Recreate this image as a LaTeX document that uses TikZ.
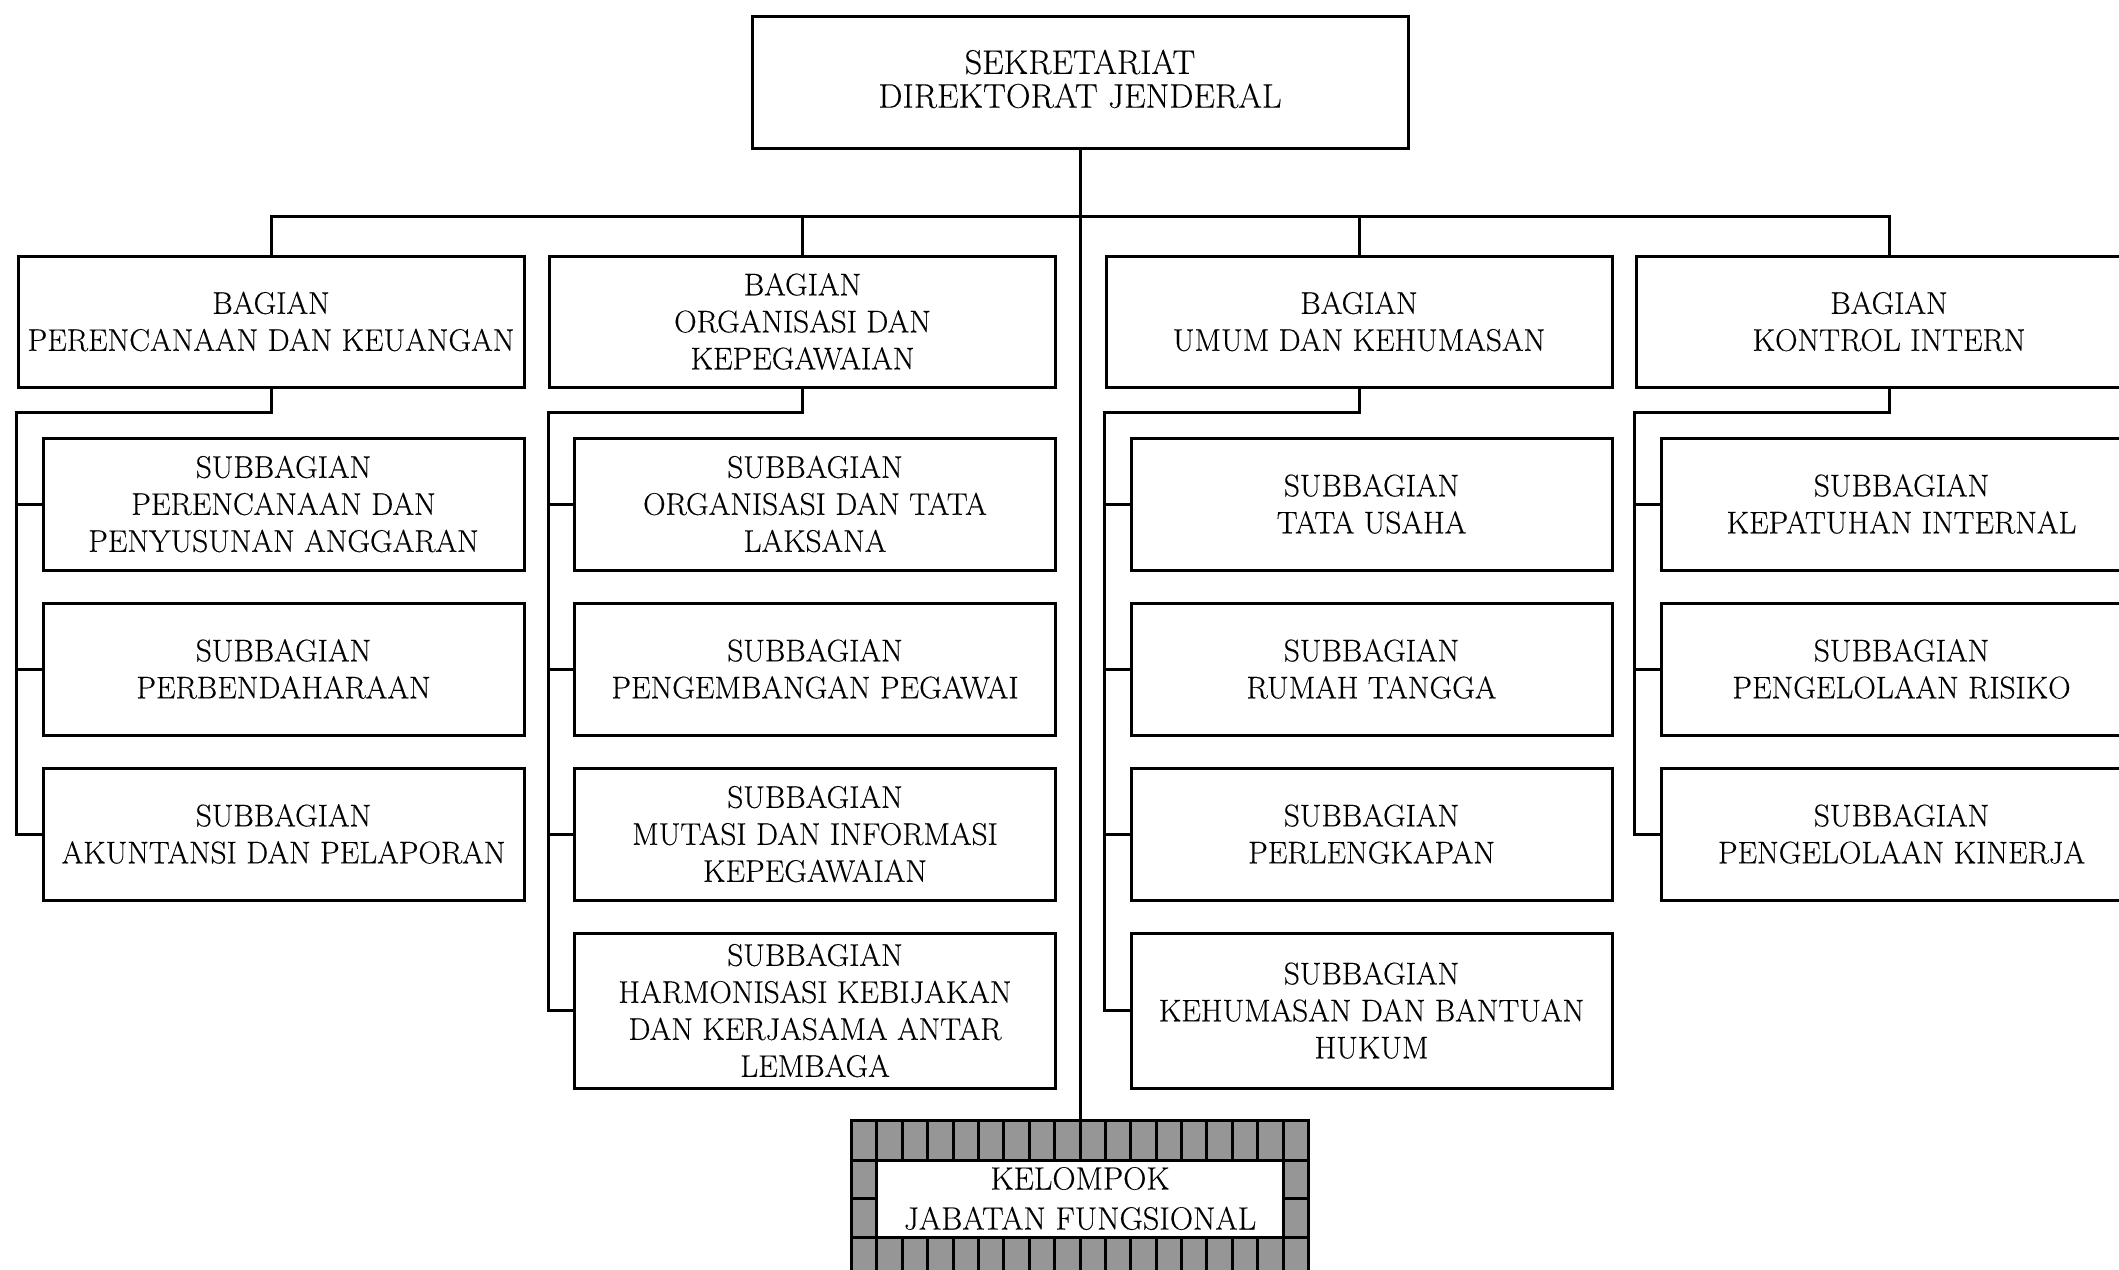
\documentclass[tikz,border=0pt]{standalone}
\usepackage{fontspec}
\setmainfont{Latin Modern Roman}[FakeBold=0.25]
\definecolor{brick}{RGB}{150,150,150}
\newcommand\chartfont{\fontsize{15.6pt}{18.5pt}\selectfont}
\newcommand\headfont{\fontsize{17.1pt}{16.9pt}\selectfont}
\newcommand\kjffont{\fontsize{16.1pt}{20pt}\selectfont}
\begin{document}
\begin{tikzpicture}[x=0.5pt,y=-0.5pt,line width=1.5pt,
  box/.style={draw,fill=white,align=center,inner sep=0pt,font=\chartfont},
  topbox/.style={box,font=\headfont,minimum width=328pt,minimum height=66pt},
  bag/.style={box,minimum width=253pt,minimum height=65.5pt},
  sub/.style={box,minimum width=240.5pt,minimum height=66pt},
  subtall/.style={box,minimum width=240.5pt,minimum height=77.5pt}]
\useasboundingbox (0,0) rectangle (2119,1269);
\clip (0,0) rectangle (2119,1269);
% head
\node[topbox] (top) at (1080,82) {SEKRETARIAT\\DIREKTORAT JENDERAL\rule[-3.3pt]{0pt}{1pt}};
% bagian
\node[bag] (b1) at (271,321.5) {BAGIAN\\PERENCANAAN DAN KEUANGAN};
\node[bag] (b2) at (802.5,321.5) {BAGIAN\\ORGANISASI DAN\\KEPEGAWAIAN};
\node[bag] (b3) at (1359,321.5) {BAGIAN\\UMUM DAN KEHUMASAN};
\node[bag] (b4) at (1889,321.5) {BAGIAN\\KONTROL INTERN};
% subbagian column 1
\node[sub] (s11) at (283.5,504) {SUBBAGIAN\\PERENCANAAN DAN\\PENYUSUNAN ANGGARAN};
\node[sub] (s12) at (283.5,669) {SUBBAGIAN\\PERBENDAHARAAN};
\node[sub] (s13) at (283.5,834) {SUBBAGIAN\\AKUNTANSI DAN PELAPORAN};
% column 2
\node[sub] (s21) at (815,504) {SUBBAGIAN\\ORGANISASI DAN TATA\\LAKSANA};
\node[sub] (s22) at (815,669) {SUBBAGIAN\\PENGEMBANGAN PEGAWAI};
\node[sub] (s23) at (815,834) {SUBBAGIAN\\MUTASI DAN INFORMASI\\KEPEGAWAIAN};
\node[subtall] (s24) at (815,1010.5) {SUBBAGIAN\\HARMONISASI KEBIJAKAN\\DAN KERJASAMA ANTAR\\LEMBAGA};
% column 3
\node[sub] (s31) at (1371.5,504) {SUBBAGIAN\\TATA USAHA};
\node[sub] (s32) at (1371.5,669) {SUBBAGIAN\\RUMAH TANGGA};
\node[sub] (s33) at (1371.5,834) {SUBBAGIAN\\PERLENGKAPAN};
\node[subtall] (s34) at (1371.5,1010.5) {SUBBAGIAN\\KEHUMASAN DAN BANTUAN\\HUKUM};
% column 4
\node[sub] (s41) at (1901.5,504) {SUBBAGIAN\\KEPATUHAN INTERNAL};
\node[sub] (s42) at (1901.5,669) {SUBBAGIAN\\PENGELOLAAN RISIKO};
\node[sub] (s43) at (1901.5,834) {SUBBAGIAN\\PENGELOLAAN KINERJA};
% kelompok jabatan fungsional
\node[draw,fill=brick,inner sep=0pt,minimum width=228.5pt,minimum height=78.5pt] (kjf) at (1080,1198.5) {};
\foreach \k in {0,...,18} {
  \draw ({851.5+\k*25.389},1120) -- ++(0,40);
  \draw ({851.5+\k*25.389},1237) -- ++(0,40);
}
\draw (851.5,1160) -- (1308.5,1160);
\draw (851.5,1237) -- (1308.5,1237);
\draw (851.5,1198) -- (876.9,1198);
\draw (1283.1,1198) -- (1308.5,1198);
\node[box,font=\kjffont,minimum width=203.1pt,minimum height=38.5pt] (kjft) at (1080,1198.5) {KELOMPOK\\JABATAN FUNGSIONAL};
% connectors
\coordinate (bus) at (0,216);
\coordinate (hook) at (0,412);
\draw (top.south) -- (kjf.north);
\draw (b1.north) -- (b1.north |- bus) -- (b4.north |- bus) -- (b4.north);
\draw (b2.north) -- (b2.north |- bus);
\draw (b3.north) -- (b3.north |- bus);
% column 1
\draw (b1.south) -- (b1.south |- hook) -| (b1.west |- s13.west) -- (s13.west);
\draw (b1.west |- s11.west) -- (s11.west);
\draw (b1.west |- s12.west) -- (s12.west);
% column 2
\draw (b2.south) -- (b2.south |- hook) -| (b2.west |- s24.west) -- (s24.west);
\draw (b2.west |- s21.west) -- (s21.west);
\draw (b2.west |- s22.west) -- (s22.west);
\draw (b2.west |- s23.west) -- (s23.west);
% column 3
\draw (b3.south) -- (b3.south |- hook) -| (b3.west |- s34.west) -- (s34.west);
\draw (b3.west |- s31.west) -- (s31.west);
\draw (b3.west |- s32.west) -- (s32.west);
\draw (b3.west |- s33.west) -- (s33.west);
% column 4
\draw (b4.south) -- (b4.south |- hook) -| (b4.west |- s43.west) -- (s43.west);
\draw (b4.west |- s41.west) -- (s41.west);
\draw (b4.west |- s42.west) -- (s42.west);
\end{tikzpicture}
\end{document}
